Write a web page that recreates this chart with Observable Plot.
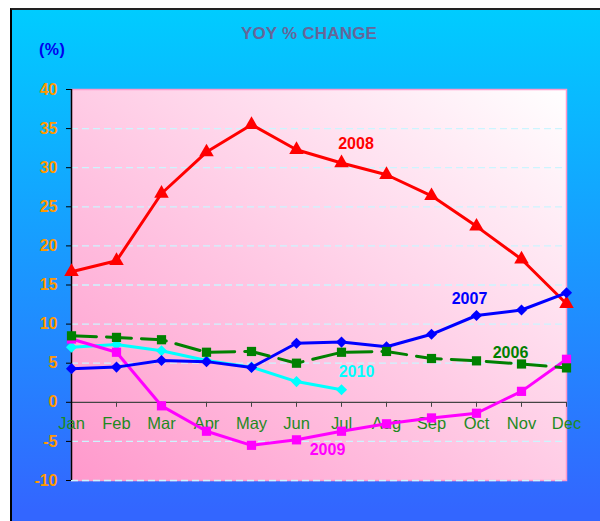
<!DOCTYPE html>
<html>
<head>
<meta charset="utf-8">
<script src="https://cdn.jsdelivr.net/npm/d3@7"></script>
<script src="https://cdn.jsdelivr.net/npm/@observablehq/plot@0.6"></script>
<style>
html, body { margin: 0; padding: 0; background: #fff; }
#wrap { position: relative; width: 600px; height: 521px; overflow: hidden; font-family: "Liberation Sans", Arial, sans-serif; }
#bg { position: absolute; left: 10px; top: 8px; width: 600px; height: 530px; border-left: 2px solid #000; border-top: 2px solid #222;
  background: linear-gradient(to bottom, #00CCFF 0px, #3366FF 500px); }
#title { position: absolute; left: 209px; width: 200px; top: 24.5px; line-height: 17px; text-align: center; font-size: 17px; font-weight: bold; color: #666699; white-space: nowrap; letter-spacing: 0.2px; }
#unit { position: absolute; left: 39px; top: 41.5px; line-height: 16px; font-size: 16px; font-weight: bold; color: #0000EE; letter-spacing: 0.5px; }
#chart { position: absolute; left: 0; top: 0; }
</style>
</head>
<body>
<div id="wrap">
  <div id="bg"></div>
  <div id="title">YOY % CHANGE</div>
  <div id="unit">(%)</div>
  <div id="chart"></div>
</div>
<script>
const months = ["Jan","Feb","Mar","Apr","May","Jun","Jul","Aug","Sep","Oct","Nov","Dec"];
const yTicks = [-10, -5, 0, 5, 10, 15, 20, 25, 30, 35, 40];
const gridTicks = [-10, -5, 5, 10, 15, 20, 25, 30, 35];

const v2006 = [8.5, 8.3, 8.0, 6.4, 6.5, 5.0, 6.4, 6.5, 5.6, 5.3, 4.9, 4.4];
const v2007 = [4.3, 4.5, 5.35, 5.2, 4.45, 7.55, 7.7, 7.1, 8.7, 11.1, 11.8, 14.0];
const v2008 = [16.7, 18.1, 26.7, 32.0, 35.5, 32.3, 30.6, 29.1, 26.4, 22.5, 18.3, 12.6];
const v2009 = [8.1, 6.4, -0.45, -3.7, -5.5, -4.8, -3.7, -2.75, -2.0, -1.4, 1.4, 5.5];
const v2010 = [7.05, 7.4, 6.6, 5.35, 4.5, 2.65, 1.6, null, null, null, null, null];

const rows = (vals) => months.map((m, i) => ({month: m, value: vals[i]})).filter(d => d.value != null);

const series = [
  {name: "2010", vals: v2010, color: "#00FFFF", symbol: "diamond2", r: 5.0, dash: null, label: "Jul", dx: 15, dy: -18},
  {name: "2009", vals: v2009, color: "#FF00FF", symbol: "square", r: 5.2, dash: null, label: "Jul", dx: -14, dy: 19},
  {name: "2008", vals: v2008, color: "#FF0000", symbol: "triangle", r: 5.4, dash: null, label: "Jul", dx: 14.5, dy: -19},
  {name: "2007", vals: v2007, color: "#0000FF", symbol: "diamond2", r: 5.0, dash: null, label: "Oct", dx: -7, dy: -16.5},
  {name: "2006", vals: v2006, color: "#008000", symbol: "square", r: 5.2, dash: "25,10", label: "Nov", dx: -11, dy: -11}
];

const marks = [
  Plot.frame({fill: "url(#plotGrad)", stroke: "#FF99CC", strokeWidth: 1.5}),
  Plot.ruleY(gridTicks, {stroke: "#CCF5FF", strokeWidth: 1.3, strokeDasharray: "7,4"}),
  Plot.ruleY([0], {stroke: "#444444", strokeWidth: 1.2}),
  Plot.ruleX(months, {x: d => d, y1: 0, y2: 0, insetBottom: -5, stroke: "#444444"}),
  Plot.ruleX([months[0]], {x: d => d, stroke: "#000000", strokeWidth: 1.5}),
  Plot.axisY({ticks: yTicks, tickSize: 5, tickPadding: 9, fill: "#FF9900", stroke: "#000000", fontSize: 16, fontWeight: "bold", label: null, tickFormat: d => String(d)}),
  Plot.text(months, {x: d => d, y: 0, dy: 21, fill: "#1E8A1E", fontSize: 16.5})
];

for (const s of series) {
  const data = rows(s.vals);
  marks.push(Plot.line(data, {x: "month", y: "value", stroke: s.color, strokeWidth: 3, strokeDasharray: s.dash || undefined}));
  marks.push(Plot.dot(data, {x: "month", y: "value", symbol: s.symbol, r: s.r, fill: s.color, stroke: null}));
}
for (const s of series) {
  const data = rows(s.vals).filter(d => d.month === s.label);
  marks.push(Plot.text(data, {x: "month", y: "value", text: () => s.name, dx: s.dx, dy: s.dy, fill: s.color, fontSize: 16, fontWeight: "bold"}));
}

const chart = Plot.plot({
  width: 600,
  height: 521,
  marginLeft: 71,
  marginRight: 34,
  marginTop: 89,
  marginBottom: 41,
  style: {background: "transparent", fontFamily: "'Liberation Sans', Arial, sans-serif", overflow: "visible"},
  x: {type: "point", domain: months, padding: 0, axis: null},
  y: {domain: [-10, 40], axis: null},
  marks
});

const defs = d3.select(chart).insert("defs", ":first-child");
const grad = defs.append("linearGradient").attr("id", "plotGrad")
  .attr("x1", 0).attr("y1", 1).attr("x2", 1).attr("y2", 0);
grad.append("stop").attr("offset", 0).attr("stop-color", "#FF99CC");
grad.append("stop").attr("offset", 1).attr("stop-color", "#FFFFFF");

document.getElementById("chart").appendChild(chart);
</script>
</body>
</html>
